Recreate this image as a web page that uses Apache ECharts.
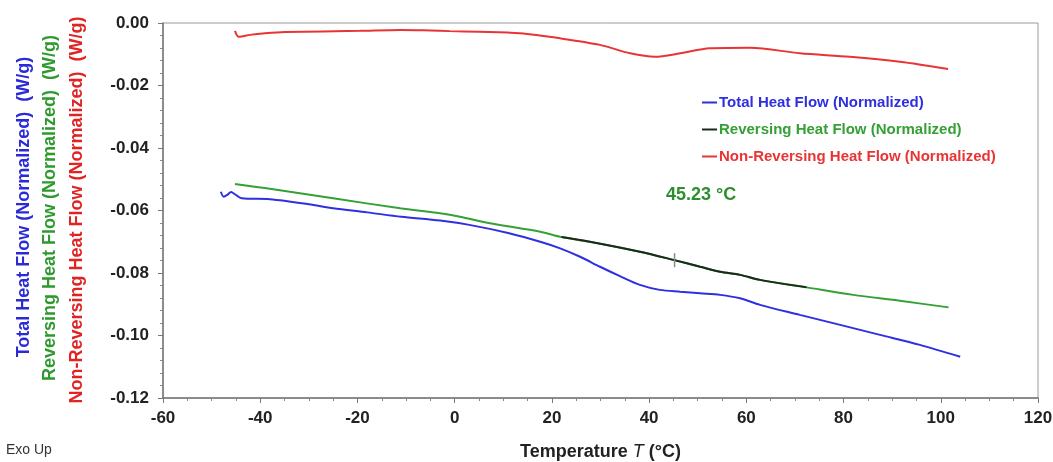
<!DOCTYPE html>
<html>
<head>
<meta charset="utf-8">
<script src="https://cdn.jsdelivr.net/npm/echarts@6/dist/echarts.min.js"></script>
<style>
html,body{margin:0;padding:0;background:#fff;}
#chart{width:1053px;height:462px;}
</style>
</head>
<body>
<div id="chart"></div>
<script>
// ---- data ----
const totalT = [-48.1,-47.5,-46.7,-46.0,-45.2,-43.8,-38,-30,-25,-18,-11,-3,3,11,17.6,21.7,25.8,29.9,34,38.1,42.2,46.4,50.5,54.6,58.7,62.8,71,79.3,87.5,95.7,104];
const totalV = [-0.0540,-0.0556,-0.0549,-0.0541,-0.0548,-0.0561,-0.0564,-0.0580,-0.0593,-0.0606,-0.0620,-0.0632,-0.0646,-0.0672,-0.0700,-0.0721,-0.0748,-0.0780,-0.0810,-0.0838,-0.0854,-0.0860,-0.0865,-0.0870,-0.0881,-0.0902,-0.0934,-0.0966,-0.0998,-0.1030,-0.1068];

const revT = [-45.2,-38.7,-25,-11.2,-3,1.1,7.3,17.6,22,27.8,38.1,45,50.5,54.6,58.7,62.8,72.4,82,91.6,101.6];
const revV = [-0.0515,-0.0529,-0.0561,-0.0593,-0.0609,-0.0620,-0.0641,-0.0668,-0.0685,-0.0700,-0.0732,-0.0758,-0.0780,-0.0796,-0.0806,-0.0822,-0.0846,-0.0870,-0.0889,-0.0910];

const nonRevT = [-45.2,-44.4,-42.1,-39,-34.9,-19.5,-11.2,-5,-1,5,13.4,21.7,29.9,36.1,41.2,46.4,52.5,60.8,71,81.3,91.6,101.5];
const nonRevV = [-0.0025,-0.0044,-0.0038,-0.0033,-0.0029,-0.0025,-0.0022,-0.0024,-0.0026,-0.0028,-0.0033,-0.0049,-0.0070,-0.0097,-0.0108,-0.0097,-0.0081,-0.0079,-0.0097,-0.0108,-0.0124,-0.0147];

// analysed region of the reversing curve (drawn dark)
const analysisRange = [22, 72.4];
// step-change marker
const markerT = 45.23;
const markerV = -0.0759;
const markerLabel = '45.23 °C';

const xTicks = [-60, 120, 20];   // min, max, interval
const yTicks = [-0.12, 0, 0.02];

const seriesNames = ['Total Heat Flow (Normalized)','Reversing Heat Flow (Normalized)','Non-Reversing Heat Flow (Normalized)'];
const yTitles = ['Total Heat Flow (Normalized)  (W/g)','Reversing Heat Flow (Normalized)  (W/g)','Non-Reversing Heat Flow (Normalized)  (W/g)'];

const BLUE = '#2f2fe0', GREEN = '#35a035', RED = '#e83434', DARK = '#1c2a1c';
const FONT = '"Liberation Sans", Arial, sans-serif';

function pairs(xs, ys){ return xs.map((x,i)=>[x, ys[i]]); }
const revPairs = pairs(revT, revV);
const darkPairs = revPairs.filter(p => p[0] >= analysisRange[0] && p[0] <= analysisRange[1]);

const chart = echarts.init(document.getElementById('chart'), null, {renderer:'canvas'});
chart.setOption({
  animation: false,
  backgroundColor: '#fff',
  grid: {left:163, right:15, top:23, bottom:64, outerBoundsMode:'none', containLabel:false,
    show:true, borderColor:'#9a9a9a', borderWidth:1, backgroundColor:'transparent'},
  legend: {
    orient:'vertical', left:697, top:90, itemWidth:15, itemHeight:2, itemGap:12, icon:'rect',
    textStyle:{fontFamily:FONT, fontWeight:'bold', fontSize:15, lineHeight:15, padding:[0,0,0,-3]},
    data:[
      {name:seriesNames[0], textStyle:{color:BLUE}, itemStyle:{color:BLUE}},
      {name:seriesNames[1], textStyle:{color:GREEN}, itemStyle:{color:DARK}},
      {name:seriesNames[2], textStyle:{color:RED}, itemStyle:{color:RED}}
    ]
  },
  xAxis: {
    type:'value', min:xTicks[0], max:xTicks[1], interval:xTicks[2],
    name:'Temperature {i|T} (°C)', nameLocation:'middle', nameGap:45,
    nameTextStyle:{fontFamily:FONT, fontWeight:'bold', fontSize:18, color:'#222',
      rich:{i:{fontFamily:FONT, fontStyle:'italic', fontWeight:'normal', fontSize:18, color:'#222'}}},
    axisLine:{show:true, onZero:false, lineStyle:{color:'#777', width:1.5}},
    axisTick:{show:true, length:5, lineStyle:{color:'#777'}},
    minorTick:{show:true, splitNumber:4, length:3, lineStyle:{color:'#888'}},
    splitLine:{show:false},
    axisLabel:{fontFamily:FONT, fontWeight:'bold', fontSize:17, color:'#222', margin:12}
  },
  yAxis: {
    type:'value', min:yTicks[0], max:yTicks[1], interval:yTicks[2],
    axisLine:{show:true, onZero:false, lineStyle:{color:'#777', width:1.5}},
    axisTick:{show:true, length:5, lineStyle:{color:'#777'}},
    minorTick:{show:true, splitNumber:5, length:3, lineStyle:{color:'#888'}},
    splitLine:{show:false},
    axisLabel:{fontFamily:FONT, fontWeight:'bold', fontSize:17, color:'#222', margin:14,
      formatter: v => v.toFixed(2)}
  },
  series: [
    {name:seriesNames[0], type:'line', data:pairs(totalT,totalV), showSymbol:false, smooth:0.3,
      lineStyle:{color:BLUE, width:2}, itemStyle:{color:BLUE}, z:3},
    {name:seriesNames[1], type:'line', data:revPairs, showSymbol:false, smooth:0.3,
      lineStyle:{color:GREEN, width:2}, itemStyle:{color:DARK}, z:3,
      markPoint:{symbol:'rect', symbolSize:[1.5,14], silent:true, label:{show:false},
        itemStyle:{color:'#8a8a8a'}, data:[{coord:[markerT, markerV]}]}},
    {name:'Reversing analysis', type:'line', data:darkPairs, showSymbol:false, smooth:0.3,
      lineStyle:{color:DARK, width:2}, z:4},
    {name:seriesNames[2], type:'line', data:pairs(nonRevT,nonRevV), showSymbol:false, smooth:0.3,
      lineStyle:{color:RED, width:2}, itemStyle:{color:RED}, z:3}
  ],
  graphic: [
    {type:'text', x:666, y:195, style:{text:markerLabel, fill:'#2e8f2e', font:'bold 18px '+FONT, textVerticalAlign:'middle'}},
    {type:'text', x:24, y:207, rotation:Math.PI/2, style:{text:yTitles[0], fill:'#2a2ad8', font:'bold 18px '+FONT, textAlign:'center', textVerticalAlign:'middle'}},
    {type:'text', x:50, y:208, rotation:Math.PI/2, style:{text:yTitles[1], fill:'#2e9a2e', font:'bold 18px '+FONT, textAlign:'center', textVerticalAlign:'middle'}},
    {type:'text', x:77, y:210, rotation:Math.PI/2, style:{text:yTitles[2], fill:'#e02424', font:'bold 18px '+FONT, textAlign:'center', textVerticalAlign:'middle'}},
    {type:'text', x:6, y:450, style:{text:'Exo Up', fill:'#333', font:'14px '+FONT, textVerticalAlign:'middle'}}
  ]
});
</script>
</body>
</html>
